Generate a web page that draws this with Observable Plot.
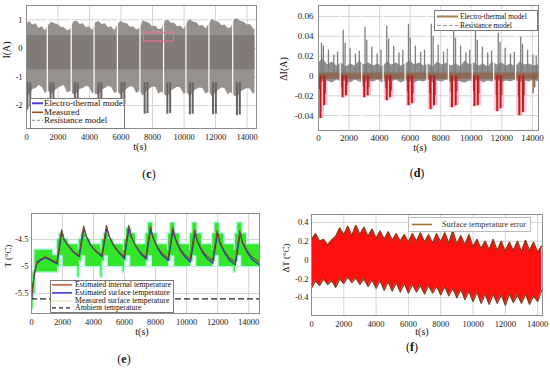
<!DOCTYPE html>
<html><head><meta charset="utf-8">
<script src="https://cdn.jsdelivr.net/npm/d3@7"></script>
<script src="https://cdn.jsdelivr.net/npm/@observablehq/plot@0.6"></script>
<style>
body{margin:0;background:#fff}
#wrap{position:relative;width:550px;height:370px;overflow:hidden;background:#fff;font-family:"Liberation Serif","Times New Roman",serif}
.t{position:absolute;white-space:nowrap;color:#111;line-height:1}
</style></head><body><div id="wrap"></div>
<script>
// ---------- shared ----------
const xTicks = [0,2000,4000,6000,8000,10000,12000,14000];
const xLabel = "t(s)";
const panelLetters = ["c","d","e","f"];

// ---------- panel (c): current ----------
const cT  = [0,200,400,600,800,1000,1200,1400,1600,1800,2000,2200,2400,2600,2800,3000,3200,3400,3600,3800,4000,4200,4400,4600,4800,5000,5200,5400,5600,5800,6000,6200,6400,6600,6800,7000,7200,7400,7600,7800,8000,8200,8400,8600,8800,9000,9200,9400,9600,9800,10000,10200,10400,10600,10800,11000,11200,11400,11600,11800,12000,12200,12400,12600,12800,13000,13200,13400,13600,13800,14000,14200,14400,14500];
const cHi = [0.86,0.94,0.82,0.86,0.70,0.76,0.62,0.80,0.92,0.86,0.84,0.74,0.72,0.62,0.66,0.92,0.96,0.84,0.86,0.72,0.76,0.62,0.90,0.94,0.84,0.86,0.72,0.76,0.62,0.84,0.94,0.88,0.86,0.74,0.76,0.64,0.70,0.96,0.92,0.88,0.76,0.78,0.66,0.68,0.96,0.98,0.88,0.88,0.76,0.78,0.66,0.90,1.00,0.92,0.90,0.78,0.80,0.68,0.86,1.02,0.94,0.92,0.80,0.82,0.70,0.72,1.00,1.04,0.94,0.92,0.82,0.84,0.70,0.66];
const cLo = [-1.58,-1.64,-1.44,-1.40,-1.30,-1.36,-1.58,-1.50,-1.62,-1.50,-1.40,-1.34,-1.30,-1.56,-1.50,-1.62,-1.58,-1.44,-1.40,-1.32,-1.36,-1.58,-1.60,-1.64,-1.46,-1.40,-1.32,-1.36,-1.58,-1.52,-1.64,-1.52,-1.42,-1.34,-1.36,-1.58,-1.50,-1.66,-1.54,-1.44,-1.36,-1.36,-1.60,-1.52,-1.64,-1.68,-1.48,-1.42,-1.36,-1.38,-1.60,-1.56,-1.70,-1.52,-1.44,-1.38,-1.40,-1.60,-1.52,-1.70,-1.56,-1.46,-1.38,-1.40,-1.62,-1.54,-1.66,-1.72,-1.52,-1.46,-1.40,-1.42,-1.60,-1.55];
const cCore = {lo: -0.75, hi: 0.45};
const cDipT = [60,240,1530,1710,3070,3250,4570,4750,6030,6210,7500,7680,8940,9120,10370,10550,11840,12020,13360,13540];
const cDipY = [-2.15,-2.05,-1.9,-1.95,-1.92,-1.88,-1.95,-1.92,-1.98,-1.95,-2.3,-2.28,-2.3,-2.28,-2.32,-2.3,-2.32,-2.3,-2.35,-2.33];
const cGapT = [1320,2840,4290,5770,7200,8700,10120,11580,13090];
const cZoomBox = {t1: 7460, t2: 9360, y1: 0.24, y2: 0.55};
const cYTicks = [-2,-1,0,1];
const cYLabel = "I(A)";
const cLegend = [
  {label:"Electro-thermal model", color:"#4a3ee0", w:2},
  {label:"Measured", color:"#9a4a22", w:1.6},
  {label:"Resistance model", color:"#8a8a8a", w:1, dash:"3,2"}
];

// ---------- panel (d): current error ----------
const dT  = [0,300,600,900,1200,1500,1800,2100,2400,2700,3000,3300,3600,3900,4200,4500,4800,5100,5400,5700,6000,6300,6600,6900,7200,7500,7800,8100,8400,8700,9000,9300,9600,9900,10200,10500,10800,11100,11400,11700,12000,12300,12600,12900,13200,13500,13800,14100,14400];
const dHi = [0.013,0.017,0.011,0.014,0.010,0.013,0.009,0.012,0.010,0.015,0.011,0.013,0.010,0.012,0.009,0.014,0.011,0.013,0.010,0.012,0.015,0.011,0.013,0.010,0.012,0.009,0.014,0.011,0.013,0.010,0.012,0.009,0.015,0.011,0.013,0.010,0.012,0.009,0.014,0.011,0.013,0.010,0.012,0.009,0.014,0.011,0.012,0.010,0.011];
const dLo = [-0.008,-0.006,-0.005,-0.007,-0.004,-0.006,-0.005,-0.007,-0.004,-0.006,-0.007,-0.005,-0.006,-0.004,-0.007,-0.005,-0.006,-0.004,-0.007,-0.005,-0.006,-0.007,-0.005,-0.006,-0.004,-0.007,-0.005,-0.006,-0.004,-0.007,-0.005,-0.006,-0.007,-0.005,-0.006,-0.004,-0.007,-0.005,-0.006,-0.004,-0.007,-0.005,-0.006,-0.004,-0.007,-0.005,-0.006,-0.004,-0.006];
const dEtBand = {lo: -0.0035, hi: 0.003};
const dSpikeT = [197,320,650,1000,1250,1617,1740,2070,2420,2670,3043,3160,3490,3840,4090,4470,4590,4920,5270,5520,5890,6010,6340,6690,6940,7385,7505,7835,8185,8435,8850,8970,9300,9650,9900,10277,10397,10727,11077,11327,11766,11886,12216,12566,12816,13236,13356,13686,14036,14250];
const dSpikeY = [0.033,0.030,0.026,0.021,0.024,0.046,0.033,0.028,0.022,0.025,0.049,0.036,0.029,0.022,0.026,0.050,0.037,0.030,0.023,0.026,0.052,0.038,0.030,0.024,0.026,0.052,0.040,0.031,0.024,0.027,0.046,0.038,0.030,0.023,0.026,0.046,0.036,0.029,0.023,0.025,0.043,0.034,0.028,0.022,0.024,0.039,0.032,0.026,0.021,0.020];
const dNegT = [130,370,1577,1795,2997,3220,4469,4686,5890,6112,7335,7558,8741,8980,10208,10425,11699,11917,13146,13382];
const dNegY = [-0.043,-0.030,-0.022,-0.020,-0.022,-0.020,-0.025,-0.022,-0.030,-0.028,-0.034,-0.030,-0.032,-0.030,-0.031,-0.030,-0.036,-0.033,-0.040,-0.037];
const dBrownT = [70,450,1520,1870,2940,3300,4410,4770,5830,6190,7280,7640,8680,9060,10150,10500,11640,12000,13090,13460,14050,14150];
const dBrownY = [-0.014,-0.018,-0.012,-0.010,-0.011,-0.012,-0.013,-0.015,-0.016,-0.018,-0.018,-0.020,-0.017,-0.016,-0.016,-0.018,-0.020,-0.020,-0.022,-0.020,-0.018,-0.012];
const dGapT = [1420,2830,4230,5670,7100,8500,10060,11460,12900];
const dYTicks = [-0.04,-0.02,0,0.02,0.04,0.06];
const dYLabel = "ΔI(A)";
const dLegend = [
  {label:"Electro-thermal model", color:"#a57c52", w:2},
  {label:"Resistance model", color:"#a0a0a0", w:1, dash:"4,2"}
];

// ---------- panel (e): temperature ----------
const eIT = [0,80,200,350,600,900,1200,1450,1635,1935,2100,2400,2700,3060,3360,3520,3820,4120,4530,4830,4990,5290,5590,5965,6265,6425,6725,7025,7365,7665,7825,8125,8425,8805,9105,9265,9565,9865,10225,10525,10685,10985,11285,11670,11970,12130,12430,12730,13130,13430,13590,13890,14200,14700];
const eIV = [-5.62,-5.35,-5.1,-4.92,-4.86,-4.82,-4.86,-4.9,-4.93,-4.32,-4.5,-4.62,-4.72,-4.8,-4.25,-4.43,-4.6,-4.7,-4.8,-4.24,-4.43,-4.6,-4.72,-4.82,-4.24,-4.44,-4.62,-4.74,-4.83,-4.26,-4.46,-4.64,-4.76,-4.85,-4.28,-4.48,-4.66,-4.78,-4.87,-4.32,-4.52,-4.69,-4.8,-4.89,-4.34,-4.54,-4.71,-4.83,-4.92,-4.34,-4.54,-4.7,-4.82,-4.92];
const eST = [0,80,200,350,600,900,1200,1450,1650,1965,2120,2420,2720,3080,3390,3540,3840,4140,4550,4860,5010,5310,5610,5985,6295,6445,6745,7045,7385,7695,7845,8145,8445,8825,9135,9285,9585,9885,10245,10555,10705,11005,11305,11690,12000,12150,12450,12750,13150,13460,13610,13910,14220,14700];
const eSV = [-5.64,-5.38,-5.13,-4.94,-4.88,-4.84,-4.88,-4.92,-4.95,-4.36,-4.52,-4.64,-4.74,-4.82,-4.29,-4.45,-4.62,-4.72,-4.82,-4.28,-4.45,-4.62,-4.74,-4.85,-4.28,-4.46,-4.64,-4.77,-4.86,-4.3,-4.48,-4.67,-4.8,-4.89,-4.32,-4.5,-4.7,-4.82,-4.92,-4.36,-4.55,-4.73,-4.85,-4.94,-4.38,-4.57,-4.75,-4.88,-4.97,-4.38,-4.57,-4.74,-4.87,-4.97];
const eMT = [0,100,230,1350,1680,1820,2050,2350,3000,3080,3240,3500,3800,4470,4550,4700,4960,5260,5910,5990,6140,6400,6700,7310,7390,7540,7800,8100,8750,8830,8980,9240,9540,10170,10250,10400,10660,10960,11610,11690,11840,12100,12400,13070,13150,13300,13560,13860,14700];
const eMHi = [-5.3,-5.1,-4.7,-4.8,-4.5,-4.4,-4.5,-4.6,-4.7,-4.5,-4.4,-4.5,-4.6,-4.7,-4.5,-4.4,-4.5,-4.6,-4.7,-4.5,-4.3,-4.4,-4.6,-4.6,-4.4,-4.2,-4.4,-4.6,-4.7,-4.4,-4.2,-4.4,-4.6,-4.7,-4.4,-4.2,-4.4,-4.6,-4.7,-4.4,-4.2,-4.4,-4.6,-4.7,-4.4,-4.2,-4.4,-4.6,-4.6];
const eMLo = [-5.78,-5.5,-5.1,-5.1,-5.0,-4.8,-5.0,-5.0,-5.2,-4.9,-4.8,-5.0,-5.0,-5.2,-4.9,-4.8,-5.0,-5.0,-5.1,-4.9,-4.8,-5.0,-5.0,-5.0,-4.9,-4.8,-5.0,-5.0,-5.0,-4.9,-4.8,-5.0,-5.0,-5.0,-4.9,-4.8,-5.0,-5.0,-5.0,-4.9,-4.8,-5.0,-5.0,-5.1,-4.9,-4.8,-5.0,-5.0,-5.0];
const eAmbient = -5.6;
const eYTicks = [-5.5,-5,-4.5];
const eYLabel = "T (°C)";
const eLegend = [
  {label:"Estimated internal temperature", color:"#c0603a", w:1.6},
  {label:"Estimated surface temperature", color:"#3a3ac8", w:1.6},
  {label:"Measured surface temperature", color:"#e4edc4", w:1.6},
  {label:"Ambient temperature", color:"#222", w:1.2, dash:"4,3"}
];

// ---------- panel (f): temperature error ----------
const fT  = [0,250,500,750,1000,1250,1500,1750,2000,2250,2500,2750,3000,3250,3500,3750,4000,4250,4500,4750,5000,5250,5500,5750,6000,6250,6500,6750,7000,7250,7500,7750,8000,8250,8500,8750,9000,9250,9500,9750,10000,10250,10500,10750,11000,11250,11500,11750,12000,12250,12500,12750,13000,13250,13500,13750,14000,14250];
const fHi = [0.22,0.28,0.20,0.22,0.16,0.21,0.25,0.34,0.27,0.36,0.26,0.37,0.27,0.35,0.25,0.33,0.23,0.31,0.22,0.30,0.21,0.28,0.20,0.27,0.19,0.28,0.20,0.29,0.19,0.27,0.18,0.28,0.19,0.29,0.18,0.31,0.17,0.26,0.16,0.27,0.14,0.22,0.12,0.20,0.11,0.22,0.10,0.20,0.09,0.19,0.10,0.20,0.09,0.21,0.10,0.19,0.08,0.15];
const fLo = [-0.30,-0.22,-0.27,-0.20,-0.26,-0.22,-0.29,-0.20,-0.25,-0.18,-0.24,-0.19,-0.26,-0.20,-0.28,-0.21,-0.30,-0.22,-0.32,-0.23,-0.33,-0.24,-0.34,-0.25,-0.35,-0.26,-0.34,-0.27,-0.36,-0.27,-0.35,-0.28,-0.37,-0.28,-0.38,-0.30,-0.40,-0.31,-0.42,-0.33,-0.44,-0.34,-0.46,-0.36,-0.47,-0.36,-0.46,-0.37,-0.48,-0.36,-0.45,-0.37,-0.46,-0.36,-0.47,-0.38,-0.44,-0.32];
const fYTicks = [-0.4,-0.2,0,0.2,0.4];
const fYLabel = "ΔT (°C)";
const fLegend = [{label:"Surface temperature error", color:"#a0703a", w:1.6}];

// ---------- tables ----------
const zip2 = (t, a, b, ka, kb) => t.map((v, i) => ({t: v, [ka]: a[i], [kb]: b[i]}));
const cRows = zip2(cT, cLo, cHi, "lo", "hi");
const cDips = cDipT.map((t, i) => ({t, y: cDipY[i]}));
const dRows = zip2(dT, dLo, dHi, "lo", "hi");
const dSpikes = dSpikeT.map((t, i) => ({t, y: dSpikeY[i]}));
const dNeg = dNegT.map((t, i) => ({t, y: dNegY[i]}));
const dBrown = dBrownT.map((t, i) => ({t, y: dBrownY[i]}));
const eInt = eIT.map((t, i) => ({t, v: eIV[i]}));
const eSurf = eST.map((t, i) => ({t, v: eSV[i]}));
const eMeas = zip2(eMT, eMLo, eMHi, "lo", "hi");
const fRows = zip2(fT, fLo, fHi, "lo", "hi");

const wrap = document.getElementById("wrap");
const SERIF = '"Liberation Serif","Times New Roman",serif';

function panel(o) {
  const svg = Plot.plot({
    width: o.width, height: o.height,
    marginLeft: o.ml, marginRight: o.mr, marginTop: o.mt, marginBottom: o.mb,
    x: {domain: o.xDomain, ticks: xTicks, tickFormat: d => String(d), tickSize: 0, tickPadding: o.xPad, label: null},
    y: {domain: o.yDomain, ticks: o.yTicks, tickFormat: d => String(d), tickSize: 0, tickPadding: o.yPad, label: null},
    style: {fontFamily: SERIF, fontSize: o.fs + "px", color: "#1a1a1a", background: "transparent", overflow: "visible"},
    marks: [
      Plot.gridX(xTicks, {stroke: "#d4d4d4", strokeOpacity: 1}),
      Plot.gridY(o.yTicks, {stroke: "#d4d4d4", strokeOpacity: 1}),
      ...o.marks,
      Plot.frame({stroke: "#8c8c8c"})
    ]
  });
  svg.style.position = "absolute";
  svg.style.left = o.left + "px";
  svg.style.top = o.top + "px";
  wrap.appendChild(svg);
}

function text(str, x, y, size, rot, html) {
  const d = document.createElement("div");
  d.className = "t";
  d.style.left = x + "px"; d.style.top = y + "px"; d.style.fontSize = size + "px";
  d.style.transform = "translate(-50%,-50%)" + (rot ? " rotate(-90deg)" : "");
  if (html) d.innerHTML = str; else d.textContent = str;
  wrap.appendChild(d);
}

function legend(rows, o) {
  const box = document.createElement("div");
  Object.assign(box.style, {position: "absolute", left: o.left + "px", top: o.top + "px", width: o.width + "px", height: o.height + "px",
    border: "1px solid " + (o.border || "#7a7a7a"), background: "#fff", boxSizing: "border-box", fontFamily: SERIF,
    fontSize: o.fs + "px", color: o.color || "#111", paddingTop: (o.padTop || 0) + "px", overflow: "hidden"});
  const ns = "http://www.w3.org/2000/svg";
  rows.forEach(r => {
    const row = document.createElement("div");
    Object.assign(row.style, {display: "flex", alignItems: "center", height: o.rowH + "px", whiteSpace: "nowrap", lineHeight: o.rowH + "px"});
    const s = document.createElementNS(ns, "svg");
    s.setAttribute("width", o.sx + o.sw); s.setAttribute("height", o.rowH);
    s.style.flex = "none";
    const l = document.createElementNS(ns, "line");
    l.setAttribute("x1", o.sx); l.setAttribute("x2", o.sx + o.sw);
    l.setAttribute("y1", o.rowH / 2); l.setAttribute("y2", o.rowH / 2);
    l.setAttribute("stroke", r.color); l.setAttribute("stroke-width", r.w || 1.5);
    if (r.dash) l.setAttribute("stroke-dasharray", r.dash);
    s.appendChild(l); row.appendChild(s);
    const sp = document.createElement("span");
    sp.textContent = r.label; sp.style.marginLeft = o.gap + "px";
    row.appendChild(sp);
    box.appendChild(row);
  });
  wrap.appendChild(box);
}

// (c)
panel({left: 0, top: 0, width: 265, height: 150, ml: 26, mr: 9, mt: 5, mb: 22,
  xDomain: [0, 14600], yDomain: [-2.8, 1.5], yTicks: cYTicks, xPad: 5, yPad: 4, fs: 8.5,
  marks: [
    Plot.areaY(cRows, {x: "t", y1: "lo", y2: "hi", fill: "#97918d", curve: "linear", clip: true}),
    Plot.areaY(cRows, {x: "t", y1: () => cCore.lo, y2: () => cCore.hi, fill: "#817a76", clip: true}),
    Plot.ruleX(cDips, {x: "t", y1: () => -1.2, y2: "y", stroke: "#6a625e", strokeWidth: 2, clip: true}),
    Plot.ruleX(cGapT, {x: d => d, stroke: "#fff", strokeWidth: 1.2, clip: true}),
    Plot.rect([cZoomBox], {x1: "t1", x2: "t2", y1: "y1", y2: "y2", fill: "none", stroke: "#ff6a90", strokeWidth: 1})
  ]});

// (d)
panel({left: 290, top: 0, width: 260, height: 152, ml: 28, mr: 12, mt: 5, mb: 22,
  xDomain: [0, 14400], yDomain: [-0.055, 0.071], yTicks: dYTicks, xPad: 4, yPad: 5, fs: 9,
  marks: [
    Plot.ruleX(dNeg, {x: "t", y1: () => 0, y2: "y", stroke: "#f9c4d4", strokeWidth: 7, clip: true}),
    Plot.areaY(dRows, {x: "t", y1: "lo", y2: "hi", fill: "#8f8f8f", curve: "linear", clip: true}),
    Plot.ruleX(dSpikes, {x: "t", y1: () => 0, y2: "y", stroke: "#7e7e7e", strokeWidth: 1.3, clip: true}),
    Plot.areaY(dRows, {x: "t", y1: () => dEtBand.lo, y2: () => dEtBand.hi, fill: "#8e6a58", clip: true}),
    Plot.ruleX(dGapT, {x: d => d, stroke: "#fff", strokeWidth: 1.2, clip: true}),
    Plot.ruleX(dBrown, {x: "t", y1: () => 0, y2: "y", stroke: "#9a5b3a", strokeWidth: 1.3, clip: true}),
    Plot.ruleX(dNeg, {x: "t", y1: () => 0, y2: "y", stroke: "#c8161c", strokeWidth: 2, clip: true})
  ]});

// (e)
panel({left: 0, top: 200, width: 268, height: 135, ml: 31, mr: 9, mt: 13, mb: 22,
  xDomain: [0, 14700], yDomain: [-5.87, -4.02], yTicks: eYTicks, xPad: 5, yPad: 3, fs: 8.5,
  marks: [
    Plot.areaY(eMeas, {x: "t", y1: "lo", y2: "hi", fill: "#b8f7e6", stroke: "#b8f7e6", strokeWidth: 3, curve: "step-after", clip: true}),
    Plot.areaY(eMeas, {x: "t", y1: "lo", y2: "hi", fill: "#33e62a", curve: "step-after", clip: true}),
    Plot.ruleY([eAmbient], {stroke: "#222", strokeWidth: 1.2, strokeDasharray: "6,3"}),
    Plot.line(eSurf, {x: "t", y: "v", stroke: "#2a2ab8", strokeWidth: 1.1, clip: true}),
    Plot.line(eInt, {x: "t", y: "v", stroke: "#7e4426", strokeWidth: 1.1, clip: true})
  ]});

// (f)
panel({left: 275, top: 200, width: 275, height: 137, ml: 36, mr: 8, mt: 14, mb: 22,
  xDomain: [0, 14300], yDomain: [-0.59, 0.485], yTicks: fYTicks, xPad: 5, yPad: 3, fs: 8.5,
  marks: [
    Plot.areaY(fRows, {x: "t", y1: "lo", y2: "hi", fill: "#ff1010", curve: "linear", clip: true}),
    Plot.line(fRows, {x: "t", y: "hi", stroke: "#8b3b1b", strokeWidth: 1.3, clip: true}),
    Plot.line(fRows, {x: "t", y: "lo", stroke: "#8b3b1b", strokeWidth: 1.3, clip: true})
  ]});

// legends
legend(cLegend, {left: 30, top: 98, width: 95, height: 31, fs: 9, rowH: 8.6, sx: 1, sw: 11, gap: 1});
legend(dLegend, {left: 434, top: 10, width: 104, height: 21, fs: 7.4, rowH: 9, padTop: 1, sx: 2, sw: 21, gap: 2});
legend(eLegend, {left: 50, top: 280, width: 124, height: 33, fs: 7.8, rowH: 7.8, sx: 1, sw: 20, gap: 3});
legend(fLegend, {left: 408, top: 217, width: 123, height: 15, fs: 8.2, rowH: 13, sx: 3, sw: 20, gap: 10, border: "#bdbdbd", color: "#333"});

// axis titles
text(cYLabel, 7, 50, 10, true);
text(xLabel, 140, 147, 10);
text(dYLabel, 284, 69, 10, true);
text(xLabel, 420, 148, 10);
text(eYLabel, 8, 256, 9, true);
text(xLabel, 142, 332, 10);
text(fYLabel, 286, 258, 9, true);
text(xLabel, 422, 332, 10);

// panel letters
text("(<b>" + panelLetters[0] + "</b>)", 149, 174, 12, false, true);
text("(<b>" + panelLetters[1] + "</b>)", 417, 173, 12, false, true);
text("(<b>" + panelLetters[2] + "</b>)", 124, 359, 12, false, true);
text("(<b>" + panelLetters[3] + "</b>)", 412, 347, 12, false, true);
</script></body></html>
